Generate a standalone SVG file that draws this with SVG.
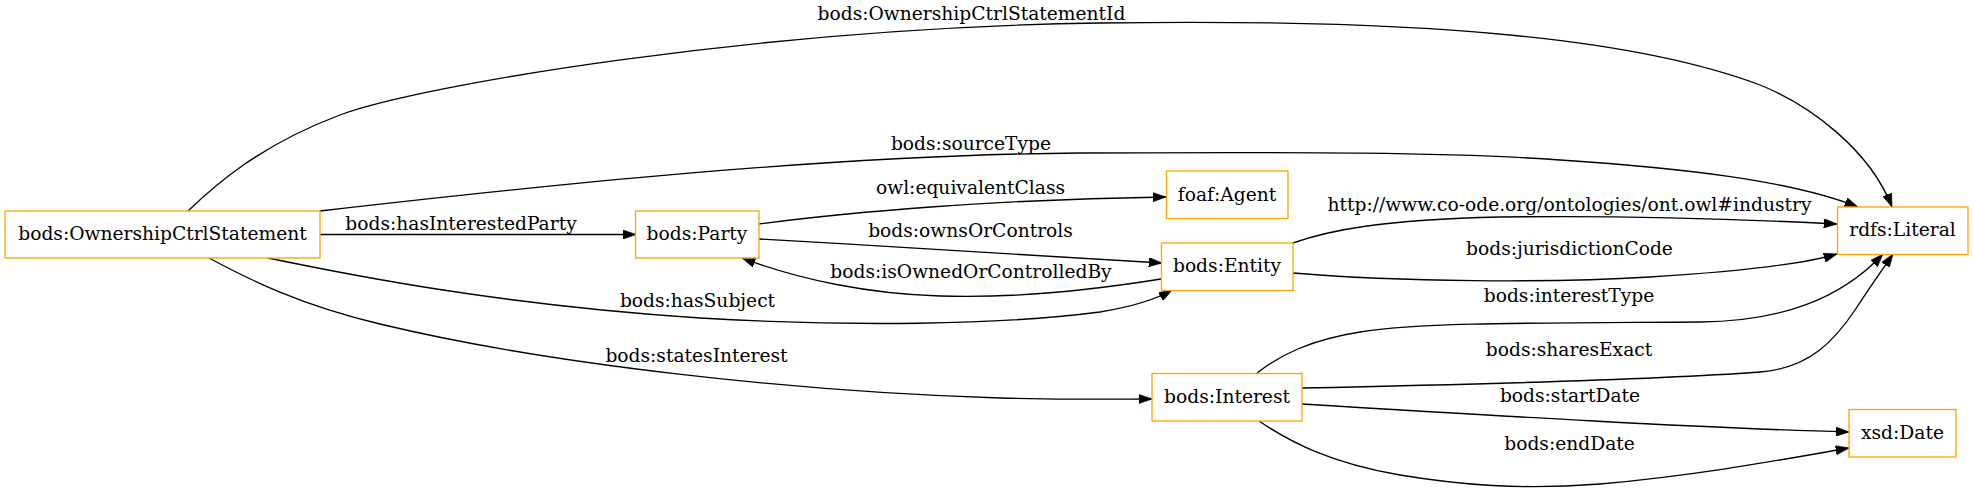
<svg xmlns="http://www.w3.org/2000/svg" width="1973" height="492" viewBox="0 0 1973 492">
<style>
.node rect { fill: #ffffff; stroke: #ffa500; stroke-width: 1.33; }
.node text, .lbl { font-family: "DejaVu Serif", "Liberation Serif", serif; font-size: 18.67px; fill: #000000; text-anchor: middle; }
.edge { fill: none; stroke: #000000; stroke-width: 1.33; marker-end: url(#arr); }
</style>
<defs>
<marker id="arr" viewBox="0 0 10 7" refX="10" refY="3.5" markerWidth="13.3" markerHeight="9.3" markerUnits="userSpaceOnUse" orient="auto">
<path d="M0,0 L10,3.5 L0,7 z" fill="#000000" stroke="#000000" stroke-width="0.5"/>
</marker>
</defs>
<rect width="1973" height="492" fill="#ffffff"/>
<g id="edges">
<path class="edge" d="M188,211 C215,185 260,145 340,115 C420,85 760,28 1100,23 C1440,18 1640,40 1760,85 C1810,105 1870,150 1892,207"/>
<text class="lbl" x="971.5" y="20">bods:OwnershipCtrlStatementId</text>
<path class="edge" d="M320,211 C520,188 820,155 1080,153 C1300,152 1450,152 1560,160 C1680,168 1790,180 1858,207"/>
<text class="lbl" x="971" y="150">bods:sourceType</text>
<path class="edge" d="M320,234.5 L636,234.5"/>
<text class="lbl" x="461" y="230">bods:hasInterestedParty</text>
<path class="edge" d="M268,258 C350,275 500,305 700,318 C850,327 1000,325 1100,312 C1130,307 1155,300 1172,290"/>
<text class="lbl" x="697.5" y="307">bods:hasSubject</text>
<path class="edge" d="M209,258 C250,280 300,305 380,324 C550,365 800,392 1000,398 C1080,400 1120,399 1152,399"/>
<text class="lbl" x="696.5" y="362">bods:statesInterest</text>
<path class="edge" d="M759,224 C850,212 1000,199 1166,197"/>
<text class="lbl" x="970.5" y="194">owl:equivalentClass</text>
<path class="edge" d="M759,239 C900,247 1050,256 1162,263"/>
<text class="lbl" x="970.5" y="237">bods:ownsOrControls</text>
<path class="edge" d="M1161,279 C1080,292 1000,298 940,296 C870,294 800,280 742,258"/>
<text class="lbl" x="971" y="278">bods:isOwnedOrControlledBy</text>
<path class="edge" d="M1293,243 C1330,230 1380,220 1500,217 C1650,215 1760,220 1837,224"/>
<text class="lbl" x="1569.5" y="211">http://www.co-ode.org/ontologies/ont.owl#industry</text>
<path class="edge" d="M1293,273 C1400,282 1550,283 1650,277 C1730,272 1800,265 1837,254"/>
<text class="lbl" x="1569.5" y="255">bods:jurisdictionCode</text>
<path class="edge" d="M1257,373 C1280,355 1310,340 1360,332 C1420,322 1550,323 1700,322 C1780,321 1840,300 1883,254"/>
<text class="lbl" x="1569" y="302">bods:interestType</text>
<path class="edge" d="M1302,388 C1450,385 1650,380 1760,372 C1810,368 1835,340 1855,310 C1870,287 1882,270 1893,254"/>
<text class="lbl" x="1569" y="356">bods:sharesExact</text>
<path class="edge" d="M1302,404 C1500,416 1700,428 1849,432"/>
<text class="lbl" x="1570" y="402">bods:startDate</text>
<path class="edge" d="M1259,421 C1290,442 1330,463 1400,475 C1460,485 1520,490 1600,484 C1700,475 1780,460 1849,448"/>
<text class="lbl" x="1569.5" y="450">bods:endDate</text>
</g>
<g id="node-OwnershipCtrlStatement" class="node">
<rect x="5" y="211" width="315" height="47"/>
<text x="162.5" y="240">bods:OwnershipCtrlStatement</text>
</g>
<g id="node-Party" class="node">
<rect x="635.5" y="211" width="123.5" height="47"/>
<text x="697" y="240">bods:Party</text>
</g>
<g id="node-foafAgent" class="node">
<rect x="1166.5" y="171" width="121.5" height="47.5"/>
<text x="1227" y="200.5">foaf:Agent</text>
</g>
<g id="node-Entity" class="node">
<rect x="1161.5" y="243" width="131.5" height="47.5"/>
<text x="1227" y="272">bods:Entity</text>
</g>
<g id="node-Interest" class="node">
<rect x="1152" y="373.5" width="150" height="47.5"/>
<text x="1227" y="402.5">bods:Interest</text>
</g>
<g id="node-rdfsLiteral" class="node">
<rect x="1837.5" y="207" width="130.5" height="47.5"/>
<text x="1902.5" y="236">rdfs:Literal</text>
</g>
<g id="node-xsdDate" class="node">
<rect x="1849" y="409.5" width="107" height="47.5"/>
<text x="1902.5" y="438.5">xsd:Date</text>
</g>
</svg>
